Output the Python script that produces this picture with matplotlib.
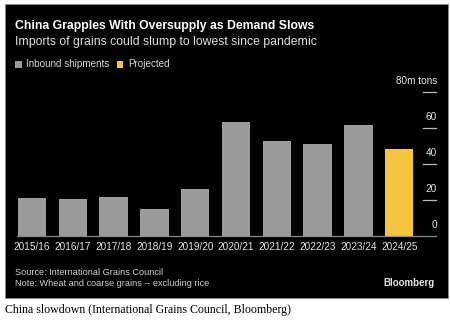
import matplotlib
matplotlib.use("Agg")
import matplotlib.pyplot as plt
from matplotlib.patches import Rectangle
import matplotlib.transforms as mtransforms

# Chinese grain imports, million tons
seasons = ["2015/16", "2016/17", "2017/18", "2018/19", "2019/20",
           "2020/21", "2021/22", "2022/23", "2023/24", "2024/25"]
imports = [20.8, 20.2, 21.3, 14.7, 25.8, 63.3, 52.6, 50.7, 61.5, 48.3]
projected = [False] * 9 + [True]
y_ticks = [0, 20, 40, 60, 80]
y_tick_labels = ["0", "20", "40", "60", "80m tons"]

W, H = 450, 328
GRAY = "#9b9b9b"
YELLOW = "#f6c443"
FONT = "Liberation Sans"

fig = plt.figure(figsize=(W / 100, H / 100), dpi=100)
fig.patch.set_facecolor("white")


def fx(px):
    return px / W


def fy(py):
    return 1 - py / H


# black card
fig.patches.append(Rectangle((fx(5), fy(297.5)), fx(443), (297.5 - 4) / H,
                             transform=fig.transFigure, facecolor="black",
                             edgecolor="#8a8a8a", linewidth=0.6, zorder=-10))

# plotting area
ax_left, ax_right = 11.6, 440.0
ax_top, ax_bot = 91.7, 235.7
ax = fig.add_axes([fx(ax_left), fy(ax_bot), fx(ax_right - ax_left),
                   (ax_bot - ax_top) / H])
ax.set_facecolor("none")
ax.set_xlim(-0.5, (ax_right - 32) / 40.8)
ax.set_ylim(0, 80)
for s in ax.spines.values():
    s.set_visible(False)
ax.set_yticks([])
ax.tick_params(axis="x", length=0, pad=4.5, labelsize=7.2, labelcolor="#e6e6e6")

xs = list(range(len(seasons)))
colors = [YELLOW if p else GRAY for p in projected]
ax.bar(xs, imports, width=0.70, color=colors, zorder=2)
ax.set_xticks(xs)
ax.set_xticklabels(seasons, fontfamily=FONT)


def afrac(px):
    return (px - ax_left) / (ax_right - ax_left)


trans = mtransforms.blended_transform_factory(ax.transAxes, ax.transData)
ax.plot([afrac(17), afrac(436)], [0, 0], transform=trans, color="#8c8c8c",
        lw=0.9, clip_on=False, zorder=3)
for v, lab in zip(y_ticks, y_tick_labels):
    if v:
        ax.plot([afrac(423), afrac(436)], [v, v], transform=trans,
                color="#bdbdbd", lw=0.9, clip_on=False)
    off = mtransforms.offset_copy(trans, fig=fig, x=0, y=10.5, units="dots")
    ax.text(afrac(437), v, lab, transform=off, ha="right", va="center",
            fontsize=7.2, color="#e6e6e6", fontfamily=FONT)

# headings
fig.text(fx(15), fy(26), "China Grapples With Oversupply as Demand Slows",
         fontsize=8.85, fontweight="bold", color="white", fontfamily=FONT,
         va="center", ha="left")
fig.text(fx(15), fy(42.5), "Imports of grains could slump to lowest since pandemic",
         fontsize=8.85, color="#e0e0e0", fontfamily=FONT, va="center", ha="left")

# legend
for x0, col, lab in [(15, GRAY, "Inbound shipments"), (117, YELLOW, "Projected")]:
    fig.patches.append(Rectangle((fx(x0), fy(67.5)), fx(6.5), 6.5 / H,
                                 transform=fig.transFigure, facecolor=col,
                                 edgecolor="none"))
    fig.text(fx(x0 + 11), fy(64), lab, fontsize=7.1, color="#d9d9d9",
             fontfamily=FONT, va="center", ha="left")

# footer
fig.text(fx(15), fy(272.5), "Source: International Grains Council",
         fontsize=6.6, color="#d0d0d0", fontfamily=FONT, va="center")
fig.text(fx(15), fy(283.5), "Note: Wheat and coarse grains -- excluding rice",
         fontsize=6.6, color="#d0d0d0", fontfamily=FONT, va="center")
fig.text(fx(435), fy(283), "Bloomberg", fontsize=7.0, fontweight="bold",
         color="#e6e6e6", fontfamily=FONT, va="center", ha="right")

# caption below the card
fig.text(fx(5), fy(310.5), "China slowdown (International Grains Council, Bloomberg)",
         fontsize=8.55, color="black", fontfamily="Liberation Serif", va="center")

fig.savefig("out.png", dpi=100, facecolor="white")
